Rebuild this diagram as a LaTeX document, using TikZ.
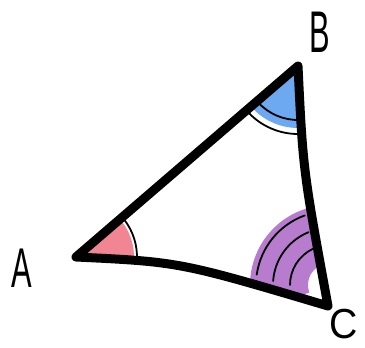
\documentclass[tikz,border=0pt]{standalone}
\usepackage{fontspec}
\setmainfont{Liberation Sans}
\begin{document}
\begin{tikzpicture}[
      x=1pt, y=1pt,
      lado/.style={line width=9pt, line cap=round, line join=round},
      arco/.style={line width=1.8pt, line cap=round},
      sector/.style={fill opacity=0.75},
      etqVertice/.style={font=\fontsize{56}{56}\selectfont, inner sep=0pt}
    ]
    \useasboundingbox (0,0) rectangle (365,348);
    \definecolor{rojo}{RGB}{236,92,108}
    \definecolor{azul}{RGB}{60,140,235}
    \definecolor{morado}{RGB}{160,80,190}

    \coordinate (A) at (76,91);
    \coordinate (B) at (298,282);
    \coordinate (C) at (328,42);
    \coordinate (centroC) at (330,63);

    % --- angulos ---
    \fill[rojo, sector] (A) -- ++(-4:58) arc[start angle=-4, end angle=40, radius=58] -- cycle;
    \draw[arco] (A) ++(-3:61) arc[start angle=-3, end angle=38, radius=61];

    \fill[azul, sector] (B) -- ++(221:62) arc[start angle=221, end angle=274, radius=62] -- cycle;
    \draw[arco] (B) ++(222:54) arc[start angle=222, end angle=272, radius=54];
    \draw[arco] (B) ++(224:68) arc[start angle=224, end angle=270, radius=68];

    \begin{scope}
      \clip (A) -- (B) .. controls (303,178) .. (C) .. controls (180,86) .. cycle;
      \fill[morado, sector] (centroC) ++(100:22) arc[start angle=100, end angle=200, radius=22]
        -- ++(200:58) arc[start angle=200, end angle=102, radius=80] -- cycle;
    \end{scope}
    \draw[arco] (centroC) ++(115:40) arc[start angle=115, end angle=180, radius=40];
    \draw[arco] (centroC) ++(112:57) arc[start angle=112, end angle=176, radius=57];
    \draw[arco] (centroC) ++(110:74) arc[start angle=110, end angle=172, radius=74];

    % --- lados ---
    \draw[lado] (A) -- (B) .. controls (303,178) .. (C) .. controls (180,86) .. cycle;

    % --- etiquetas ---
    \node[etqVertice] (etqA) at (22,80) {\scalebox{0.55}[1]{A}};
    \node[etqVertice] (etqB) at (320,316) {\scalebox{0.55}[1.05]{B}};
    \node[etqVertice] (etqC) at (344,24) {\scalebox{0.7}[0.75]{C}};
  \end{tikzpicture}
\end{document}
